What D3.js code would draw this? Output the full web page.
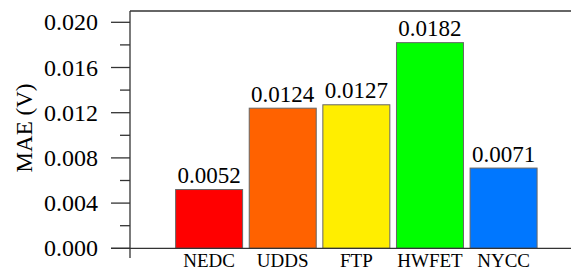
<!DOCTYPE html>
<html><head><meta charset="utf-8">
<script src="https://cdn.jsdelivr.net/npm/d3@7"></script>
<style>body{margin:0;background:#fff}svg{display:block}</style>
</head><body>
<script>
const categories = ["NEDC","UDDS","FTP","HWFET","NYCC"];
const values = [0.0052,0.0124,0.0127,0.0182,0.0071];
const valueLabels = ["0.0052","0.0124","0.0127","0.0182","0.0071"];
const colors = ["#ff0000","#ff6200","#ffee00","#00ff00","#0077ff"];
const majorTicks = [0,0.004,0.008,0.012,0.016,0.020];
const minorTicks = [0.002,0.006,0.010,0.014,0.018];
const yTitle = "MAE (V)";

const FF="Liberation Serif, Tinos, Times New Roman, DejaVu Serif, Noto Serif, serif";
const W=571,H=269;
const svg=d3.select("body").append("svg").attr("width",W).attr("height",H)
  .attr("font-family",FF);
const y=d3.scaleLinear().domain([0,0.021]).range([248.3,11]);
const x=d3.scaleBand().domain(categories).range([172.3,540.4]).paddingInner(0.09).paddingOuter(0.045);
const axisX=130, lc="#333";

// bars
svg.selectAll("rect.bar").data(values).join("rect")
  .attr("x",(d,i)=>x(categories[i])).attr("width",x.bandwidth())
  .attr("y",d=>y(d)).attr("height",d=>y(0)-y(d))
  .attr("fill",(d,i)=>colors[i]).attr("stroke","#666").attr("stroke-width",1);

function txt(sel,size){return sel.attr("font-family",FF).attr("font-size",size).attr("fill","#000");}

// value labels
txt(svg.selectAll("text.val").data(values).join("text")
  .attr("x",(d,i)=>x(categories[i])+x.bandwidth()/2).attr("y",d=>y(d)-6.5)
  .attr("text-anchor","middle"),23).text((d,i)=>valueLabels[i]);

// axes lines
svg.append("line").attr("x1",axisX).attr("x2",axisX).attr("y1",y(0.021)).attr("y2",258).attr("stroke",lc).attr("stroke-width",1.3);
svg.append("line").attr("x1",111).attr("x2",W).attr("y1",y(0)).attr("y2",y(0)).attr("stroke",lc).attr("stroke-width",1.3);
svg.append("line").attr("x1",axisX).attr("x2",W).attr("y1",y(0.021)).attr("y2",y(0.021)).attr("stroke",lc).attr("stroke-width",1.3);

// ticks
svg.selectAll("line.maj").data(majorTicks).join("line")
  .attr("x1",111).attr("x2",axisX).attr("y1",d=>y(d)).attr("y2",d=>y(d)).attr("stroke",lc).attr("stroke-width",1.3);
svg.selectAll("line.min").data(minorTicks).join("line")
  .attr("x1",120).attr("x2",axisX).attr("y1",d=>y(d)).attr("y2",d=>y(d)).attr("stroke",lc).attr("stroke-width",1.3);
txt(svg.selectAll("text.tick").data(majorTicks).join("text")
  .attr("x",98).attr("y",d=>y(d)).attr("dy","0.34em").attr("text-anchor","end"),24)
  .text(d=>d3.format(".3f")(d));

// x labels
txt(svg.selectAll("text.cat").data(categories).join("text")
  .attr("x",d=>x(d)+x.bandwidth()/2).attr("y",266.5).attr("text-anchor","middle"),19)
  .text(d=>d);

// y title
txt(svg.append("text").attr("transform","translate(31.5,128) rotate(-90)")
  .attr("text-anchor","middle"),23).text(yTitle);
</script>
</body></html>
